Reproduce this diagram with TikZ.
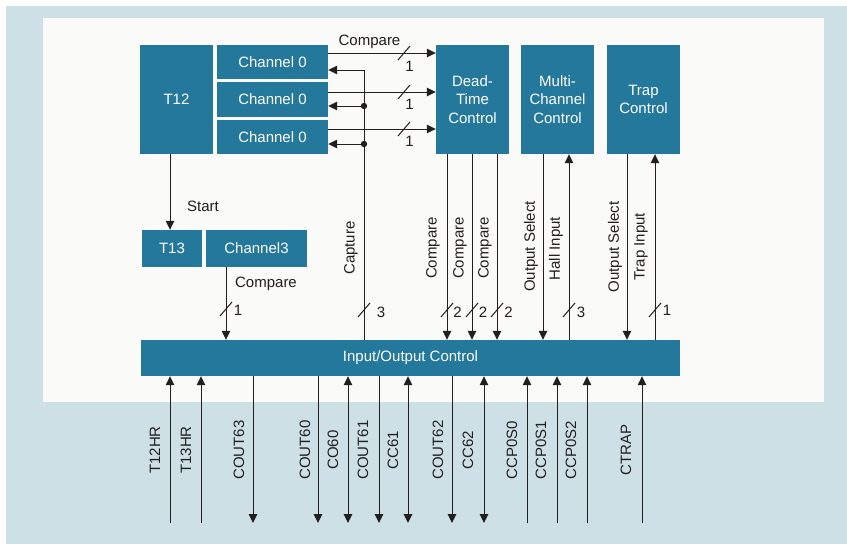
\documentclass[tikz,border=0pt]{standalone}
\usepackage{fontspec}
\setmainfont{Liberation Sans}
\usetikzlibrary{arrows.meta}
\definecolor{tealbox}{HTML}{23789B}
\definecolor{outerbg}{HTML}{CCE0E6}
\definecolor{innerbg}{HTML}{FAFAF8}
\definecolor{ink}{HTML}{231F20}
\tikzset{
  box/.style={fill=tealbox, text=white, inner sep=0pt, align=center, font=\fontsize{15}{18.3}\selectfont},
  lbl/.style={text=ink, inner sep=0pt, font=\fontsize{15}{18}\selectfont},
  vlbl/.style={lbl, rotate=90},
  wire/.style={draw=ink, line width=1pt},
  tip/.tip={Triangle[length=9pt,width=8.5pt]},
  arr/.style={wire, -tip},
  aup/.style={-tip},
  adown/.style={tip-},
  aboth/.style={tip-tip},
  bus/.pic={\draw[wire] (-6pt,-7pt) -- (6pt,7pt);},
}
\begin{document}
\begin{tikzpicture}[x=1pt,y=-1pt]
\useasboundingbox (0,0) rectangle (847,544);
\fill[outerbg] (6,6) rectangle (847,544);
\fill[innerbg] (43,18) rectangle (824,402);

% boxes
\node[box, minimum width=73pt, minimum height=109pt] (t12) at (176.5,99.5) {T12};
\node[box, minimum width=111pt, minimum height=34pt] (ch0a) at (272.5,62) {Channel 0};
\node[box, minimum width=111pt, minimum height=35pt] (ch0b) at (272.5,99.5) {Channel 0};
\node[box, minimum width=111pt, minimum height=34pt] (ch0c) at (272.5,137) {Channel 0};
\node[box, minimum width=73pt, minimum height=109pt] (dead) at (472.5,99.5) {Dead-\\Time\\Control};
\node[box, minimum width=73pt, minimum height=109pt] (multi) at (557.5,99.5) {Multi-\\Channel\\Control};
\node[box, minimum width=73pt, minimum height=109pt] (trap) at (643.5,99.5) {Trap\\Control};
\node[box, minimum width=60pt, minimum height=37pt] (t13) at (172,248.5) {T13};
\node[box, minimum width=101pt, minimum height=37pt] (ch3) at (256.5,248.5) {Channel3};
\node[box, minimum width=539pt, minimum height=36pt] (io) at (410.5,358) {Input/Output Control};

% compare arrows channel -> dead time
\draw[arr] ([yshift=9pt]ch0a.east) -- ([yshift=46.5pt]dead.west);
\draw[arr] ([yshift=7.5pt]ch0b.east) -- ([yshift=7.5pt]dead.west);
\draw[arr] ([yshift=8pt]ch0c.east) -- ([yshift=-29.5pt]dead.west);
\pic at (404,53) {bus};
\pic at (404,92) {bus};
\pic at (404,129) {bus};
\node[lbl, anchor=base] (cmpt) at (369.5,45) {Compare};
\node[lbl, anchor=base] (n1a) at (409.5,71) {1};
\node[lbl, anchor=base] (n1b) at (409.5,109.5) {1};
\node[lbl, anchor=base] (n1c) at (409.5,146.5) {1};

% capture
\coordinate (capb) at (364,0 |- io.north);
\coordinate (j1) at (364,106);
\coordinate (j2) at (364,144);
\draw[arr] (capb) |- ([yshift=-8pt]ch0a.east);
\draw[arr] (j1) -- ([yshift=-6.5pt]ch0b.east);
\draw[arr] (j2) -- ([yshift=-7pt]ch0c.east);
\fill[ink] (j1) circle (3.2pt);
\fill[ink] (j2) circle (3.2pt);
\pic at (364,310) {bus};
\node[vlbl] (capl) at (351,248) {Capture};
\node[lbl, anchor=base] (n3a) at (381,317) {3};

% T12 -> T13
\draw[arr] (t12.south -| 170,0) -- (t13.north -| 170,0);
\node[lbl, anchor=base] (startl) at (203,211.5) {Start};

% Channel3 compare
\draw[arr] (ch3.south -| 226,0) -- (io.north -| 226,0);
\pic at (226,309) {bus};
\node[lbl, anchor=base] (cmp3) at (266,287.5) {Compare};
\node[lbl, anchor=base] (n1d) at (238,315) {1};

% dead time compares
\foreach \x/\lx/\nx [count=\i] in {447/433/457.5, 472/460/483, 497/485/508.5}{
  \draw[arr] (dead.south -| \x,0) -- (io.north -| \x,0);
  \pic at (\x,310) {bus};
  \node[vlbl] (dcl\i) at (\lx,248) {Compare};
  \node[lbl, anchor=base] (dcn\i) at (\nx,317) {2};
}

% multi-channel
\draw[arr] (multi.south -| 543,0) -- (io.north -| 543,0);
\node[vlbl] (osm) at (531,246.5) {Output Select};
\draw[arr] (io.north -| 569,0) -- (multi.south -| 569,0);
\node[vlbl] (hall) at (556,248.5) {Hall Input};
\pic at (569,310) {bus};
\node[lbl, anchor=base] (n3b) at (581,317) {3};

% trap
\draw[arr] (trap.south -| 627,0) -- (io.north -| 627,0);
\node[vlbl] (ost) at (615,247) {Output Select};
\draw[arr] (io.north -| 655,0) -- (trap.south -| 655,0);
\node[vlbl] (trin) at (641,247) {Trap Input};
\pic at (655,310) {bus};
\node[lbl, anchor=base] (n1e) at (667,315) {1};

% bottom signals
\foreach \x/\lab/\lx/\t [count=\i] in {
  170/T12HR/155/up, 201/T13HR/186/up, 253/COUT63/239/down,
  318/COUT60/305/down, 348/CO60/333/both, 379/COUT61/363/down,
  408/CC61/393/both, 452/COUT62/438/down, 484/CC62/468/both,
  527/CCP0S0/512/up, 557/CCP0S1/541/up, 587/CCP0S2/571/up,
  642/CTRAP/626/up}{
  \coordinate (e\i) at (\x,523);
  \draw[wire, a\t] (e\i) -- (io.south -| e\i);
  \node[vlbl] (bl\i) at (\lx,450) {\lab};
}
\end{tikzpicture}
\end{document}
